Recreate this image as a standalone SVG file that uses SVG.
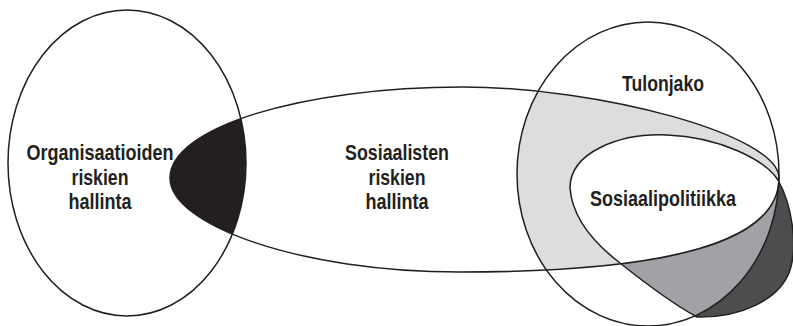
<svg xmlns="http://www.w3.org/2000/svg" width="793" height="326" viewBox="0 0 793 326">
<defs>
<style>
.o{fill:none;stroke:#231f20;stroke-width:1.5}
.t{font-family:"Liberation Sans Narrow","Liberation Sans",Arial,sans-serif;font-weight:bold;font-size:22px;fill:#231f20;text-anchor:middle}
</style>
<path id="pM" d="M 170,178 C 170,127.7 301,87 463,87 C 600,87 779,135 779,178 C 779,245 660,272 460,272 C 300,272 170,225 170,178 Z"/>
<path id="pS" d="M 778,180 C 765,160 720,137 667,135 C 620,133 570,152 570,188 C 572,215 590,240 620,263 C 650,287 675,305 697,317 C 740,318 780,300 790,270 C 798,245 792,205 778,180 Z"/>
<clipPath id="cL"><ellipse cx="127" cy="163" rx="119" ry="153"/></clipPath>
<clipPath id="cM"><path d="M 170,178 C 170,127.7 301,87 463,87 C 600,87 779,135 779,178 C 779,245 660,272 460,272 C 300,272 170,225 170,178 Z"/></clipPath>
<clipPath id="cR"><ellipse cx="648" cy="174" rx="131" ry="152"/></clipPath>
</defs>
<rect width="793" height="326" fill="#fff"/>
<g id="fills">
<g clip-path="url(#cL)"><use href="#pM" fill="#231f20"/></g>
<g clip-path="url(#cR)"><use href="#pM" fill="#dcdddf"/></g>
<use href="#pS" fill="#4d4d4f"/>
<g clip-path="url(#cR)"><use href="#pS" fill="#a1a2a5"/><g clip-path="url(#cM)"><use href="#pS" fill="#fff"/></g></g>
</g>
<g id="node-organisaatioiden">
<ellipse class="o" cx="127" cy="163" rx="119" ry="153"/>
<text class="t" x="100" y="160" textLength="147" lengthAdjust="spacingAndGlyphs">Organisaatioiden</text>
<text class="t" x="100" y="185" textLength="57" lengthAdjust="spacingAndGlyphs">riskien</text>
<text class="t" x="100" y="209" textLength="63" lengthAdjust="spacingAndGlyphs">hallinta</text>
</g>
<g id="node-sosiaalisten">
<use href="#pM" class="o"/>
<text class="t" x="397" y="160" textLength="104" lengthAdjust="spacingAndGlyphs">Sosiaalisten</text>
<text class="t" x="397" y="185" textLength="57" lengthAdjust="spacingAndGlyphs">riskien</text>
<text class="t" x="397" y="209" textLength="63" lengthAdjust="spacingAndGlyphs">hallinta</text>
</g>
<g id="node-tulonjako">
<ellipse class="o" cx="648" cy="174" rx="131" ry="152"/>
<text class="t" x="663" y="91" textLength="82" lengthAdjust="spacingAndGlyphs">Tulonjako</text>
</g>
<g id="node-sosiaalipolitiikka">
<use href="#pS" class="o"/>
<text class="t" x="663" y="206" textLength="146" lengthAdjust="spacingAndGlyphs">Sosiaalipolitiikka</text>
</g>
</svg>
